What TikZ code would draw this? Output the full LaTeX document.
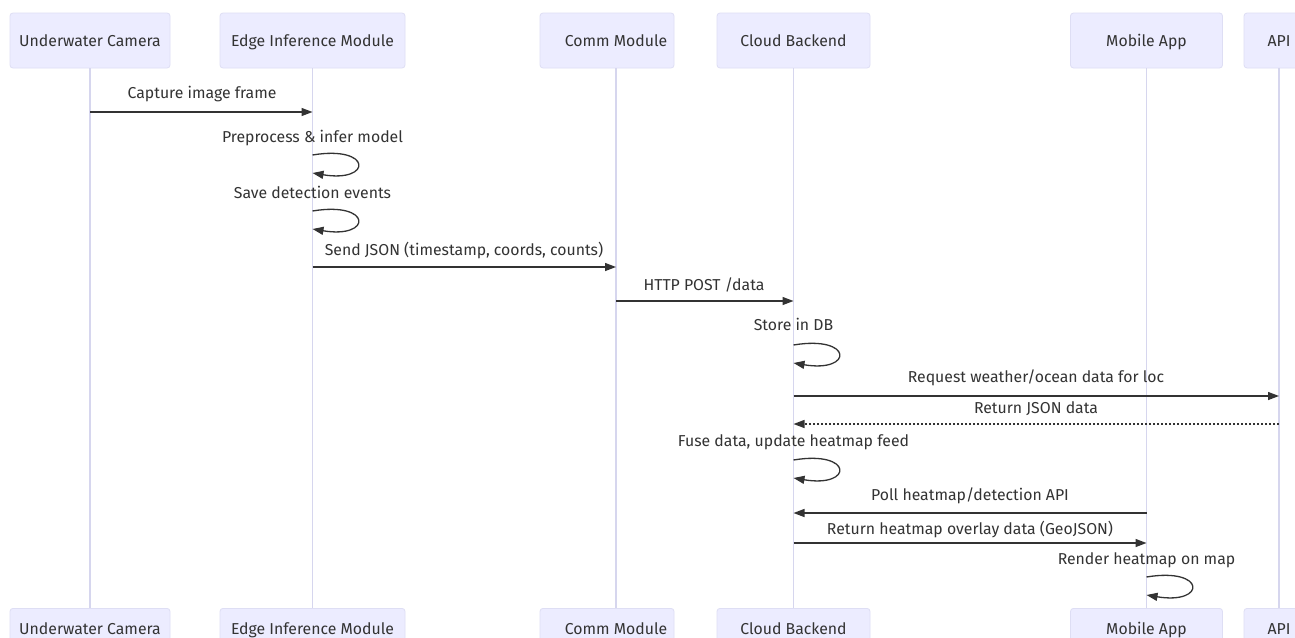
\documentclass[tikz,border=0pt]{standalone}
\usepackage{fontspec}
\setsansfont{Fira Sans}
\usetikzlibrary{arrows.meta, positioning}

\definecolor{actorfill}{RGB}{236,236,255}
\definecolor{actorline}{RGB}{222,222,244}
\definecolor{lifeline}{RGB}{214,214,238}
\definecolor{ink}{RGB}{51,51,51}

\begin{document}
\begin{tikzpicture}[
    x=1pt, y=-1pt,
    font=\sffamily\fontsize{15.8}{18}\selectfont,
    actor/.style={rectangle, draw=actorline, fill=actorfill, line width=0.8pt, rounded corners=3pt, minimum height=55pt, text=ink, text height=1.35em, text depth=0.22em},
    foot/.style={actor, minimum height=40pt, anchor=north},
    life/.style={draw=lifeline, line width=1.5pt},
    msg/.style={draw=ink, line width=1.3pt, -{Triangle[length=11pt, width=8pt]}},
    reply/.style={msg, dash pattern=on 2pt off 2pt},
    msgtext/.style={text=ink, inner sep=1pt, text height=1.35em, text depth=0.22em}
]

% Canvas
\fill[white] (0,0) rectangle (1295,637);
\useasboundingbox (0,0) rectangle (1295,637);

% Actors (top)
\node[actor, minimum width=160pt] (cam) at (90,40.5) {Underwater Camera};
\node[actor, minimum width=185pt] (edge) at (312.5,40.5) {Edge Inference Module};
\node[actor, minimum width=134pt] (comm) at (607,40.5) {\hspace*{18pt}Comm Module};
\node[actor, minimum width=153pt] (cloud) at (793.5,40.5) {Cloud Backend};
\node[actor, minimum width=152pt] (app) at (1146.5,40.5) {Mobile App};
\node[actor, minimum width=70pt] (api) at (1279,40.5) {API};

% Actors (bottom)
\node[foot, minimum width=160pt] (camB) at (90,608) {Underwater Camera};
\node[foot, minimum width=185pt] (edgeB) at (312.5,608) {Edge Inference Module};
\node[foot, minimum width=134pt] (commB) at (607,608) {\hspace*{18pt}Comm Module};
\node[foot, minimum width=153pt] (cloudB) at (793.5,608) {Cloud Backend};
\node[foot, minimum width=152pt] (appB) at (1146.5,608) {Mobile App};
\node[foot, minimum width=70pt] (apiB) at (1279,608) {API};

% Lifelines
\coordinate (commX) at ([xshift=9pt]comm.south);
\coordinate (commXB) at ([xshift=9pt]commB.north);
\draw[life] (cam.south) -- (camB.north);
\draw[life] (edge.south) -- (edgeB.north);
\draw[life] (commX) -- (commXB);
\draw[life] (cloud.south) -- (cloudB.north);
\draw[life] (app.south) -- (appB.north);
\draw[life] (api.south) -- (apiB.north);

% Messages
\node[msgtext] (m1) at (202,93) {Capture image frame};
\draw[msg] (cam.south |- 0,112) -- (edge.south |- 0,112);

\node[msgtext] (m2) at (312.5,137) {Preprocess \& infer model};
\draw[msg] (edge.south |- 0,155) .. controls +(60,-10) and +(60,10) .. (edge.south |- 0,173);

\node[msgtext] (m3) at (312.5,193) {Save detection events};
\draw[msg] (edge.south |- 0,211) .. controls +(60,-10) and +(60,10) .. (edge.south |- 0,229);

\node[msgtext] (m4) at (464,250) {Send JSON (timestamp, coords, counts)};
\draw[msg] (edge.south |- 0,267) -- (commX |- 0,267);

\node[msgtext] (m5) at (704,285) {HTTP POST /data};
\draw[msg] (commX |- 0,301) -- (cloud.south |- 0,301);

\node[msgtext] (m6) at (793.5,325) {Store in DB};
\draw[msg] (cloud.south |- 0,345) .. controls +(60,-10) and +(60,10) .. (cloud.south |- 0,363);

\node[msgtext] (m7) at (1036,377) {Request weather/ocean data for loc};
\draw[msg] (cloud.south |- 0,396) -- (api.south |- 0,396);

\node[msgtext] (m8) at (1036,408) {Return JSON data};
\draw[reply] (api.south |- 0,424) -- (cloud.south |- 0,424);

\node[msgtext] (m9) at (793.5,441) {Fuse data, update heatmap feed};
\draw[msg] (cloud.south |- 0,460) .. controls +(60,-10) and +(60,10) .. (cloud.south |- 0,478);

\node[msgtext] (m10) at (970,495) {Poll heatmap/detection API};
\draw[msg] (app.south |- 0,513) -- (cloud.south |- 0,513);

\node[msgtext] (m11) at (970,529) {Return heatmap overlay data (GeoJSON)};
\draw[msg] (cloud.south |- 0,543) -- (app.south |- 0,543);

\node[msgtext] (m12) at (1146.5,559) {Render heatmap on map};
\draw[msg] (app.south |- 0,577) .. controls +(60,-10) and +(60,10) .. (app.south |- 0,595);

\end{tikzpicture}
\end{document}
